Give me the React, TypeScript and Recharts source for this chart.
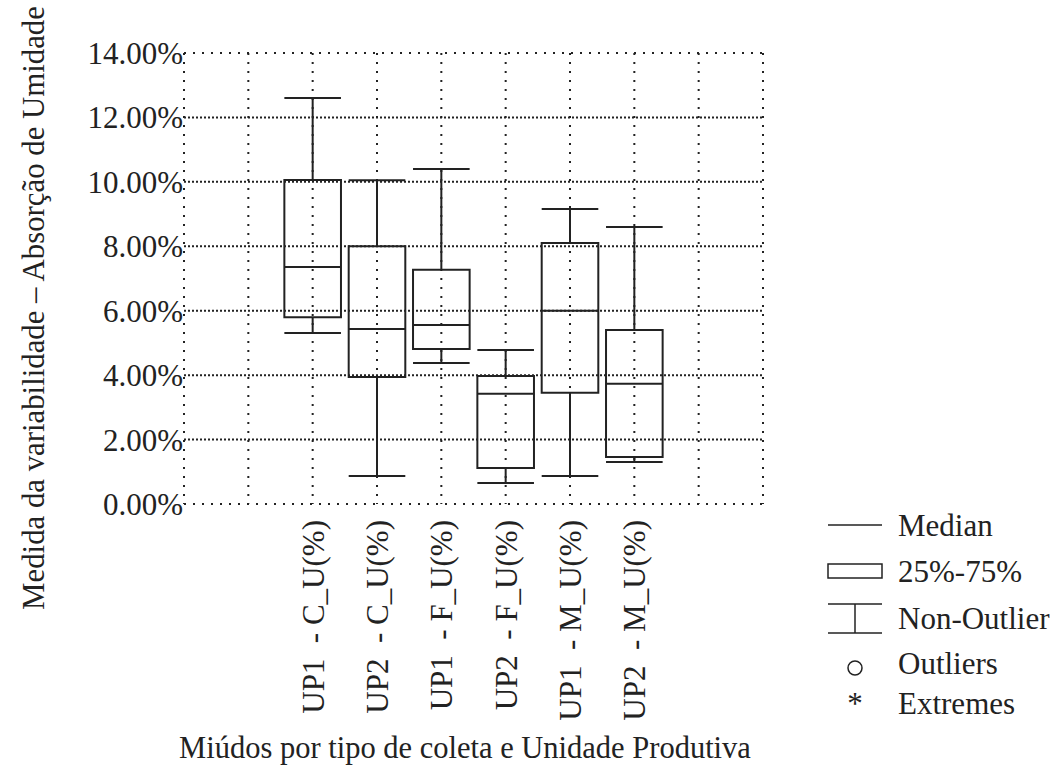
import React from "react";
import {
  ComposedChart,
  XAxis,
  YAxis,
  CartesianGrid,
  ReferenceLine,
  ReferenceArea,
  Scatter,
} from "recharts";

const categories = [
  "UP1  - C_U(%)",
  "UP2  - C_U(%)",
  "UP1  - F_U(%)",
  "UP2  - F_U(%)",
  "UP1  - M_U(%)",
  "UP2  - M_U(%)",
];
const positions = [2, 3, 4, 5, 6, 7];
const minValues = [5.31, 0.87, 4.38, 0.65, 0.87, 1.3];
const q1Values = [5.8, 3.94, 4.81, 1.12, 3.45, 1.46];
const medianValues = [7.36, 5.43, 5.56, 3.42, 6.0, 3.73];
const q3Values = [10.06, 8.0, 7.27, 3.97, 8.1, 5.4];
const maxValues = [12.6, 10.05, 10.4, 4.78, 9.16, 8.6];

const yTicks = [0, 2, 4, 6, 8, 10, 12, 14];
const xTicks = [0, 1, 2, 3, 4, 5, 6, 7, 8, 9];

const rows = categories.map((name, i) => ({
  name,
  pos: positions[i],
  min: minValues[i],
  q1: q1Values[i],
  median: medianValues[i],
  q3: q3Values[i],
  max: maxValues[i],
}));

const INK = "#222";
const FONT = "Liberation Serif";
const HALF = 0.44;

function XTick(props: any) {
  const { x, y, payload } = props;
  const idx = positions.indexOf(payload.value);
  if (idx < 0) return null;
  return (
    <text
      x={x}
      y={y + 8}
      transform={`rotate(-90, ${x}, ${y + 8})`}
      textAnchor="end"
      dy="0.35em"
      fill={INK}
      fontSize={31}
      style={{ whiteSpace: "pre", fontFamily: FONT }}
    >
      {categories[idx]}
    </text>
  );
}

function Legend() {
  const t = { fontSize: 31, fill: INK, style: { fontFamily: FONT } } as const;
  return (
    <svg width={240} height={220} style={{ position: "absolute", left: 811, top: 500 }}>
      <line x1={17} x2={71} y1={25} y2={25} stroke={INK} strokeWidth={1.5} />
      <text x={87} y={25} dy="0.35em" {...t}>Median</text>
      <rect x={17} y={64} width={54} height={14} fill="none" stroke={INK} strokeWidth={1.5} />
      <text x={87} y={71} dy="0.35em" {...t}>25%-75%</text>
      <line x1={17} x2={71} y1={104} y2={104} stroke={INK} strokeWidth={1.5} />
      <line x1={17} x2={71} y1={133} y2={133} stroke={INK} strokeWidth={1.5} />
      <line x1={44} x2={44} y1={104} y2={133} stroke={INK} strokeWidth={1.5} />
      <text x={87} y={118} dy="0.35em" {...t}>Non-Outlier</text>
      <circle cx={44} cy={168} r={7} fill="none" stroke={INK} strokeWidth={1.5} />
      <text x={87} y={163} dy="0.35em" {...t}>Outliers</text>
      <text x={44} y={214} textAnchor="middle" {...t}>*</text>
      <text x={87} y={203} dy="0.35em" {...t}>Extremes</text>
    </svg>
  );
}

export default function App() {
  return (
    <div style={{ position: "absolute", left: 0, top: 0, width: 1051, height: 769, background: "#fff" }}>
      <ComposedChart
        width={1051}
        height={769}
        data={rows}
        margin={{ top: 53, right: 288, left: 0, bottom: 0 }}
        style={{ fontFamily: FONT }}
      >
        <CartesianGrid horizontal={false} stroke={INK} strokeWidth={2} strokeDasharray="2 7" />
        {yTicks.map((t) => (
          <ReferenceLine
            key={`h${t}`}
            y={t}
            stroke={INK}
            strokeWidth={2}
            strokeDasharray={t === 0 || t === 14 ? "2 7" : "2 2"}
          />
        ))}
        <XAxis
          dataKey="pos"
          type="number"
          domain={[0, 9]}
          ticks={xTicks}
          interval={0}
          axisLine={false}
          tickLine={false}
          height={265}
          tick={<XTick />}
          label={() => (
            <text x={465} y={747} dy="0.35em" textAnchor="middle" fontSize={30.5} fill={INK} style={{ fontFamily: FONT }}>
              Miúdos por tipo de coleta e Unidade Produtiva
            </text>
          )}
        />
        <YAxis
          type="number"
          domain={[0, 14]}
          ticks={yTicks}
          axisLine={false}
          tickLine={false}
          tickSize={0}
          width={184}
          tickMargin={1}
          tick={{ fill: INK, fontSize: 31, style: { fontFamily: FONT } }}
          tickFormatter={(v: number) => `${v.toFixed(2)}%`}
          label={() => (
            <text
              x={33}
              y={308}
              transform="rotate(-90, 33, 308)"
              textAnchor="middle"
              dy="0.35em"
              fontSize={30.8}
              fill={INK}
              style={{ fontFamily: FONT }}
            >
              Medida da variabilidade – Absorção de Umidade
            </text>
          )}
        />
        {rows.map((r) => (
          <React.Fragment key={r.name}>
            <ReferenceLine segment={[{ x: r.pos, y: r.q3 }, { x: r.pos, y: r.max }]} stroke={INK} strokeWidth={2} />
            <ReferenceLine segment={[{ x: r.pos, y: r.min }, { x: r.pos, y: r.q1 }]} stroke={INK} strokeWidth={2} />
            <ReferenceLine segment={[{ x: r.pos - HALF, y: r.max }, { x: r.pos + HALF, y: r.max }]} stroke={INK} strokeWidth={2} />
            <ReferenceLine segment={[{ x: r.pos - HALF, y: r.min }, { x: r.pos + HALF, y: r.min }]} stroke={INK} strokeWidth={2} />
            <ReferenceArea
              x1={r.pos - HALF}
              x2={r.pos + HALF}
              y1={r.q1}
              y2={r.q3}
              fill="none"
              fillOpacity={0}
              stroke={INK}
              strokeWidth={2}
              strokeOpacity={1}
            />
            <ReferenceLine segment={[{ x: r.pos - HALF, y: r.median }, { x: r.pos + HALF, y: r.median }]} stroke={INK} strokeWidth={2} />
          </React.Fragment>
        ))}
        <Scatter dataKey="median" fill="none" isAnimationActive={false} shape={() => <g />} />
      </ComposedChart>
      <Legend />
    </div>
  );
}
